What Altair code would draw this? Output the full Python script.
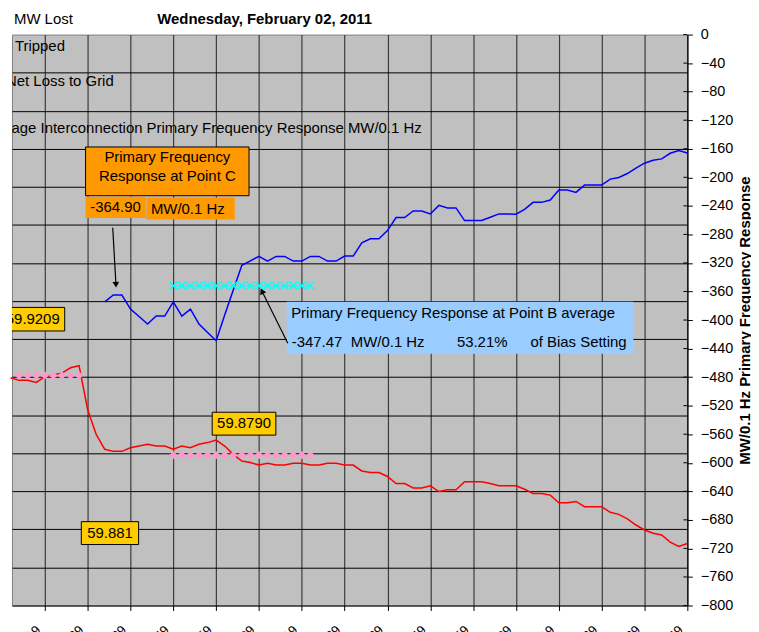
import json
import altair as alt
import pandas as pd

FONT = "Liberation Sans"

# ---------------- data (sample index: 5 samples per vertical grid interval) ----------------
blue_idx = list(range(12, 81))
blue_mw = [-374.5, -364.9, -364.9, -384.7, -395.0, -405.6, -394.4, -394.4, -374.5, -394.4,
           -384.7, -405.6, -417.4, -428.9, -392.8, -358.0, -323.3, -317.0, -310.8, -317.4,
           -310.8, -310.8, -317.4, -317.4, -310.8, -310.8, -317.4, -317.4, -310.4, -310.4,
           -291.7, -286.1, -286.1, -274.6, -256.4, -256.4, -247.1, -247.1, -251.3, -239.3,
           -242.9, -242.9, -260.6, -260.6, -260.6, -256.0, -251.3, -251.3, -251.6, -244.9,
           -235.1, -235.1, -231.8, -217.8, -217.8, -221.2, -210.9, -210.9, -210.9, -202.5,
           -200.3, -194.7, -187.2, -180.2, -176.0, -174.2, -166.3, -162.6, -165.9]

red_idx = list(range(1, 81))
red_hz = [59.9197, 59.9183, 59.9183, 59.9172, 59.9201, 59.9212, 59.9221, 59.9249, 59.9260, 59.9030,
          59.8899, 59.8821, 59.8810, 59.8810, 59.8829, 59.8838, 59.8847, 59.8838, 59.8838, 59.8821,
          59.8838, 59.8829, 59.8847, 59.8856, 59.8869, 59.8838, 59.8794, 59.8759, 59.8751, 59.8738,
          59.8747, 59.8738, 59.8738, 59.8747, 59.8747, 59.8738, 59.8738, 59.8747, 59.8747, 59.8738,
          59.8738, 59.8707, 59.8699, 59.8699, 59.8678, 59.8641, 59.8641, 59.8618, 59.8618, 59.8629,
          59.8599, 59.8608, 59.8608, 59.8650, 59.8650, 59.8650, 59.8641, 59.8629, 59.8629, 59.8629,
          59.8611, 59.8589, 59.8589, 59.8580, 59.8540, 59.8540, 59.8547, 59.8519, 59.8519, 59.8519,
          59.8490, 59.8479, 59.8455, 59.8423, 59.8397, 59.8380, 59.8371, 59.8333, 59.8310, 59.8326]

pointA_idx = [2, 3, 4, 5, 6, 7, 8, 9]
pointA_hz = 59.9209
pointB_idx = list(range(20, 37))
pointB_hz = 59.8790
pointB_mw = -352.0

x_ticks = [5, 10, 15, 20, 25, 30, 35, 40, 45, 50, 55, 60, 65, 70, 75, 80]
x_tick_labels = ["05:49:19", "05:49:29", "05:49:39", "05:49:49", "05:49:59", "05:50:09",
                 "05:50:19", "05:50:29", "05:50:39", "05:50:49", "05:50:59", "05:51:09",
                 "05:51:19", "05:51:29", "05:51:39", "05:51:49"]
mw_ticks = [-800, -760, -720, -680, -640, -600, -560, -520, -480, -440, -400, -360, -320,
            -280, -240, -200, -160, -120, -80, -40, 0]
hz_grid = [59.82, 59.84, 59.86, 59.88, 59.90, 59.92, 59.94, 59.96, 59.98, 60.00, 60.02,
           60.04, 60.06, 60.08]

blue_df = pd.DataFrame({"i": blue_idx, "mw": blue_mw})
red_df = pd.DataFrame({"i": red_idx, "hz": red_hz})
ptA_df = pd.DataFrame({"i": pointA_idx, "hz": [pointA_hz] * len(pointA_idx)})
ptB_df = pd.DataFrame({"i": pointB_idx, "hz": [pointB_hz] * len(pointB_idx)})
cyan_df = pd.DataFrame({"i": pointB_idx, "mw": [pointB_mw] * len(pointB_idx)})
mwtick_df = pd.DataFrame({"mw": mw_ticks})
dummy = pd.DataFrame({"d": [0]})

# ---------------- scales / axes ----------------
x_scale = alt.Scale(domain=[1.17, 80], nice=False, zero=False)
mw_scale = alt.Scale(domain=[-800, 0], nice=False, zero=False)
hz_scale = alt.Scale(domain=[59.80, 60.10], nice=False, zero=False)

label_expr = json.dumps(x_tick_labels) + "[round(datum.value / 5) - 1]"

x_axis = alt.Axis(values=x_ticks, grid=True, gridColor="#3c3c3c", gridWidth=1.2,
                  domainColor="black", domainWidth=1.2, tickColor="black", tickSize=5,
                  labelAngle=315, labelFont=FONT, labelFontSize=13, labelColor="black",
                  labelExpr=label_expr, labelPadding=13, labelOffset=-11,
                  labelOverlap=False, labelFlush=False, title=None)
x_enc = alt.X("i:Q", scale=x_scale, axis=x_axis)

mw_axis = alt.Axis(orient="right", values=mw_ticks, grid=False, domainColor="black",
                   tickColor="black", tickSize=5, labelPadding=8, labelFont=FONT,
                   labelFontSize=14.5, labelColor="black",
                   title="MW/0.1 Hz Primary Frequency Response", titleFont=FONT,
                   titleFontSize=15, titleFontWeight="bold", titleColor="black",
                   titleAngle=270, titleX=57, titleY=287, titleAlign="center",
                   titleBaseline="middle")
hz_axis = alt.Axis(orient="left", values=hz_grid, grid=True, gridColor="black",
                   gridWidth=1, labels=False, ticks=False, domain=False, title=None)

# ---------------- helpers for annotation shapes ----------------
def txt(s, x, y, align="left", clip=False, bold=False, size=15):
    return alt.Chart(dummy).mark_text(
        text=s, align=align, baseline="middle", font=FONT, fontSize=size,
        fontWeight="bold" if bold else "normal", color="black", clip=clip
    ).encode(x=alt.value(x), y=alt.value(y))


def box(x1, y1, x2, y2, fill, border=False, clip=False):
    kw = dict(fill=fill, clip=clip)
    if border:
        kw.update(stroke="black", strokeWidth=1)
    return alt.Chart(dummy).mark_rect(**kw).encode(
        x=alt.value(x1), x2=alt.value(x2), y=alt.value(y1), y2=alt.value(y2))


def seg(x1, y1, x2, y2):
    return alt.Chart(dummy).mark_rule(color="black", strokeWidth=1.2).encode(
        x=alt.value(x1), x2=alt.value(x2), y=alt.value(y1), y2=alt.value(y2))


def head(x, y, ang):
    return alt.Chart(dummy).mark_point(
        shape="triangle-up", filled=True, color="black", size=45, angle=ang, opacity=1
    ).encode(x=alt.value(x), y=alt.value(y))

# ---------------- layers ----------------
red_line = alt.Chart(red_df).mark_line(color="#FF0000", strokeWidth=1.5).encode(
    x=x_enc, y=alt.Y("hz:Q", scale=hz_scale, axis=hz_axis))
ptA = alt.Chart(ptA_df).mark_point(shape="diamond", filled=True, color="#FF99CC",
                                   size=70, opacity=1).encode(
    x=x_enc, y=alt.Y("hz:Q", scale=hz_scale, axis=None))
ptB = alt.Chart(ptB_df).mark_point(shape="diamond", filled=True, color="#FF99CC",
                                   size=70, opacity=1).encode(
    x=x_enc, y=alt.Y("hz:Q", scale=hz_scale, axis=None))
blue_line = alt.Chart(blue_df).mark_line(color="#0000FF", strokeWidth=1.5).encode(
    x=x_enc, y=alt.Y("mw:Q", scale=mw_scale, axis=mw_axis))
cyan_line = alt.Chart(cyan_df).mark_line(color="#00FFFF", strokeWidth=1.2).encode(
    x=x_enc, y=alt.Y("mw:Q", scale=mw_scale, axis=None))
cyan_pts = alt.Chart(cyan_df).mark_point(shape="M-1,-1L1,1M-1,1L1,-1", filled=False,
                                         color="#00FFFF", strokeWidth=1.4, size=55,
                                         opacity=1).encode(
    x=x_enc, y=alt.Y("mw:Q", scale=mw_scale, axis=None))
# inner half of the right-axis tick marks (Excel ticks cross the axis line)
inner_ticks = alt.Chart(mwtick_df).mark_rule(color="black", strokeWidth=1).encode(
    x=alt.value(675), x2=alt.value(679), y=alt.Y("mw:Q", scale=mw_scale, axis=None))

layers = [
    red_line,
    txt("MW Lost", 2, -16),
    txt("Wednesday, February 02, 2011", 254, -16, align="center", bold=True),
    txt("Tripped", 3, 12, clip=True),
    txt("Net Loss to Grid", -6, 47, clip=True),
    txt("Average Interconnection Primary Frequency Response MW/0.1 Hz", -31, 94, clip=True),
    ptA, ptB, blue_line, cyan_line, cyan_pts, inner_ticks,
    # Point C callout
    box(74, 113, 238.3, 162, "#FF9900", border=True),
    txt("Primary Frequency", 156.2, 123, align="center"),
    txt("Response at Point C", 156.2, 142, align="center"),
    box(74, 163, 134.7, 184.3, "#FF9900"),
    box(135.3, 163.7, 224, 186, "#FF9900"),
    txt("-364.90", 78.7, 173.7),
    txt("MW/0.1 Hz", 139.7, 175.3),
    # frequency value boxes
    box(-10, 274.3, 53, 298, "#FFCC00", border=True, clip=True),
    txt("59.9209", -6.2, 286, clip=True),
    box(201.3, 379.7, 265.3, 402.7, "#FFCC00", border=True),
    txt("59.8790", 233.3, 391, align="center"),
    box(69.7, 489.7, 127.3, 512.7, "#FFCC00", border=True),
    txt("59.881", 98.5, 501, align="center"),
    # Point B callout
    box(276.3, 268.7, 624.7, 321, "#99CCFF"),
    txt("Primary Frequency Response at Point B average", 280.7, 280.3),
    txt("-347.47", 281.3, 308.7),
    txt("MW/0.1 Hz", 340.7, 308.7),
    txt("53.21%", 447.3, 308.7),
    txt("of Bias Setting", 521.3, 308.7),
    # arrows
    seg(101.3, 194.3, 104.5, 251),
    head(104.5, 251.5, 176.7),
    seg(277.3, 310.3, 251.1, 257.6),
    head(251.3, 258, 333.5),
]

chart = alt.layer(*layers).resolve_scale(y="independent").properties(
    width=679, height=574,
    autosize=alt.AutoSizeParams(type="none"),
    padding={"left": 4, "top": 25, "right": 64, "bottom": 40},
    background="white",
).configure_view(fill="#C0C0C0", stroke="#808080", strokeWidth=1)

chart.save("out.html", embed_options={"renderer": "svg", "actions": False})
